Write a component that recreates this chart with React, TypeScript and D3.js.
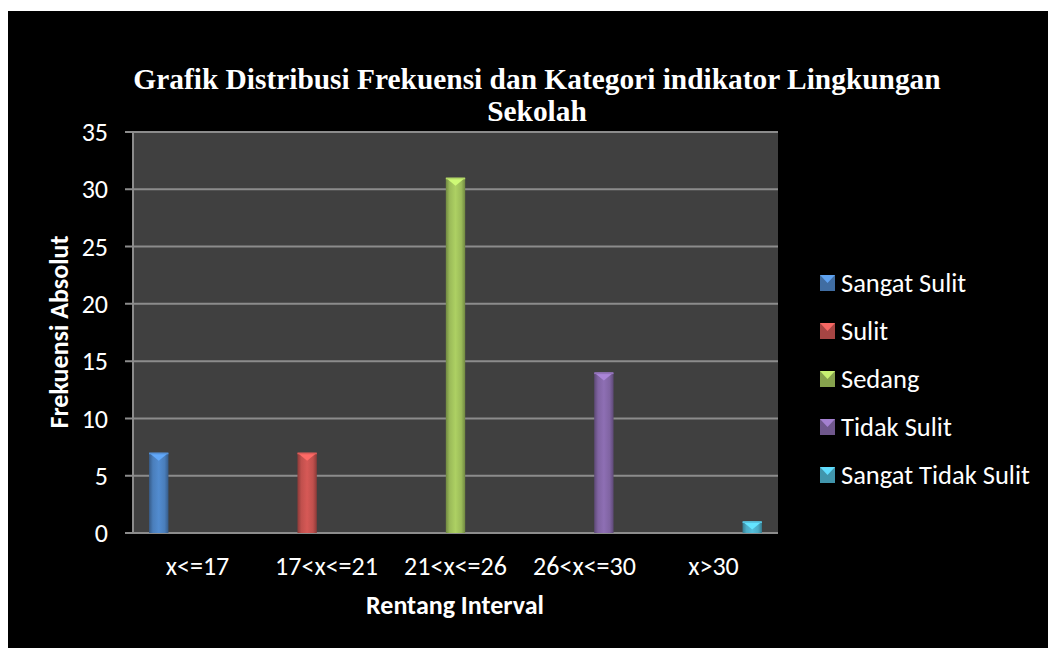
import React from 'react';
import * as d3 from 'd3';

const categories = ['x<=17', '17<x<=21', '21<x<=26', '26<x<=30', 'x>30'];
const seriesNames = ['Sangat Sulit', 'Sulit', 'Sedang', 'Tidak Sulit', 'Sangat Tidak Sulit'];
// each series only has a value in its own interval
const seriesValues = [
  [7, 0, 0, 0, 0],
  [0, 7, 0, 0, 0],
  [0, 0, 31, 0, 0],
  [0, 0, 0, 14, 0],
  [0, 0, 0, 0, 1],
];
const seriesColors = ['#4a7ebb', '#c0504d', '#9bbb59', '#8064a2', '#4bacc6'];
const yTicks = [0, 5, 10, 15, 20, 25, 30, 35];

const font = 'Carlito, Calibri, "Open Sans", sans-serif';

const App = () => {
  const plot = { left: 133, right: 778, top: 132, bottom: 533 };

  const x = d3.scaleBand<string>().domain(categories).range([plot.left, plot.right]).paddingInner(0).paddingOuter(0);
  const xs = d3
    .scaleBand<string>()
    .domain(seriesNames)
    .range([0, x.bandwidth()])
    .paddingOuter(0.83)
    .paddingInner(0);
  const y = d3.scaleLinear().domain([0, 35]).range([plot.bottom, plot.top]);

  return (
    <svg width={1048} height={648} style={{ display: 'block', position: 'absolute', left: 0, top: 0 }}>
      <defs>
        {seriesColors.map((c, i) => {
          const dark = d3.color(c)!.darker(0.9).formatHex();
          const light = d3.color(c)!.brighter(0.3).formatHex();
          return (
            <linearGradient key={i} id={'g' + i} x1="0" x2="1" y1="0" y2="0">
              <stop offset="0" stopColor={dark} />
              <stop offset="0.2" stopColor={c} />
              <stop offset="0.5" stopColor={light} />
              <stop offset="0.8" stopColor={c} />
              <stop offset="1" stopColor={dark} />
            </linearGradient>
          );
        })}
      </defs>
      <rect x={0} y={0} width={1048} height={648} fill="#fff" />
      <rect x={8} y={11} width={1040} height={637} fill="#000" />

      {/* title */}
      <text
        fill="#fff"
        fontFamily='"Liberation Serif", "Times New Roman", serif'
        fontWeight="bold"
        fontSize={29.4}
        textAnchor="middle"
      >
        <tspan x={537} y={89}>Grafik Distribusi Frekuensi dan Kategori indikator Lingkungan</tspan>
        <tspan x={537} y={121}>Sekolah</tspan>
      </text>

      {/* plot area */}
      <rect x={plot.left} y={plot.top} width={plot.right - plot.left} height={plot.bottom - plot.top} fill="#404040" />
      {yTicks.map(t => (
        <g key={t}>
          <line x1={plot.left - 8} x2={plot.right} y1={y(t)} y2={y(t)} stroke="#8c8c8c" strokeWidth={2} />
          <text
            x={108}
            y={y(t)}
            dy="0.35em"
            fill="#fff"
            fontFamily={font}
            fontSize={26}
            textAnchor="end"
          >
            {t}
          </text>
        </g>
      ))}
      <line x1={plot.left} x2={plot.left} y1={plot.top} y2={plot.bottom} stroke="#8c8c8c" strokeWidth={2} />

      {/* bars */}
      {seriesNames.map((s, si) =>
        categories.map((c, ci) => {
          const v = seriesValues[si][ci];
          if (!v) return null;
          const bx = x(c)! + xs(s)!;
          const bw = xs.bandwidth();
          const by = y(v);
          const bh = y(0) - by;
          const cap = Math.min(8, bh);
          return (
            <g key={s + c}>
              <rect x={bx} y={by} width={bw} height={bh} fill={`url(#g${si})`} />
              <path
                d={`M${bx},${by}L${bx + bw},${by}L${bx + bw / 2},${by + cap}Z`}
                fill={d3.color(seriesColors[si])!.brighter(0.8).formatHex()}
              />
              <rect x={bx} y={by} width={bw} height={1.5} fill={d3.color(seriesColors[si])!.brighter(0.4).formatHex()} />
            </g>
          );
        })
      )}

      {/* x labels */}
      {categories.map(c => (
        <text
          key={c}
          x={x(c)! + x.bandwidth() / 2}
          y={575}
          fill="#fff"
          fontFamily={font}
          fontSize={26}
          textAnchor="middle"
        >
          {c}
        </text>
      ))}
      <text x={455} y={614} fill="#fff" fontFamily={font} fontSize={26} fontWeight="bold" textAnchor="middle">
        Rentang Interval
      </text>
      <text
        transform={`translate(68,332) rotate(-90)`}
        fill="#fff"
        fontFamily={font}
        fontSize={26}
        fontWeight="bold"
        textAnchor="middle"
      >
        Frekuensi Absolut
      </text>

      {/* legend */}
      {seriesNames.map((s, i) => {
        const ly = 283 + i * 48;
        const c = seriesColors[i];
        return (
          <g key={s}>
            <rect x={820} y={ly - 8} width={15} height={16} fill={d3.color(c)!.darker(0.4).formatHex()} />
            <path d={`M820,${ly - 8}L835,${ly - 8}L827.5,${ly}Z`} fill={d3.color(c)!.brighter(0.7).formatHex()} />
            <text x={841} y={ly} dy="0.35em" fill="#fff" fontFamily={font} fontSize={26.5}>
              {s}
            </text>
          </g>
        );
      })}
    </svg>
  );
};

export default App;
